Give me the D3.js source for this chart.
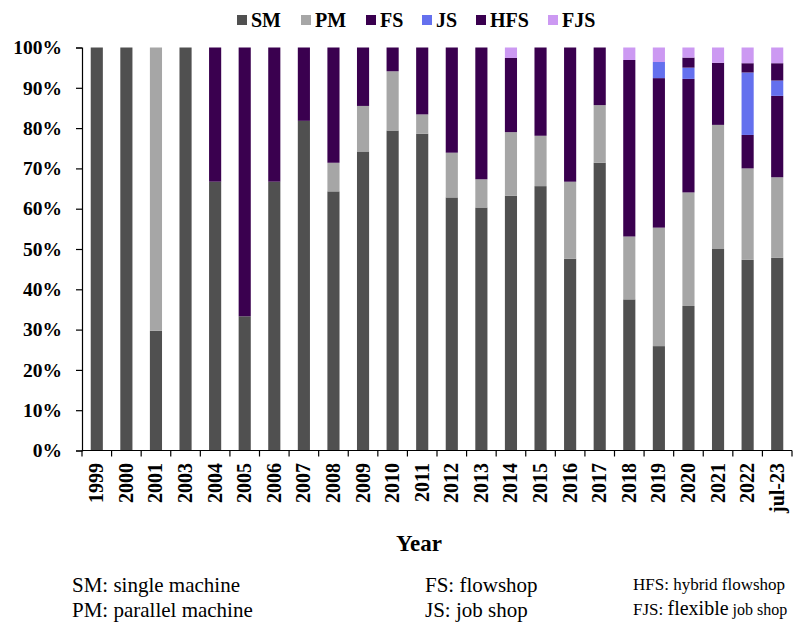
<!DOCTYPE html>
<html>
<head>
<meta charset="utf-8">
<script src="https://cdn.jsdelivr.net/npm/d3@7/dist/d3.min.js"></script>
<style>
  html, body { margin: 0; padding: 0; background: #fff; }
  svg { display: block; font-family: "Liberation Serif", "Times New Roman", serif; }
</style>
</head>
<body>
<svg id="chart" width="798" height="626"></svg>
<script>
const years = ["1999","2000","2001","2003","2004","2005","2006","2007","2008","2009","2010","2011","2012","2013","2014","2015","2016","2017","2018","2019","2020","2021","2022","jul-23"];
const seriesNames = ["SM","PM","FS","JS","HFS","FJS"];
const seriesColors = ["#505050","#a6a6a6","#3a004f","#6470ee","#3a004f","#cc99f2"];
const SM  = [100,100,29.7,100,66.7,33.3,66.7,81.8,64.3,74.2,79.4,78.6,62.8,60.3,63.2,65.6,47.6,71.4,37.5,25.9,35.9,50.0,47.3,47.8];
const PM  = [0,0,70.3,0,0,0,0,0,7.1,11.3,14.7,4.8,11.1,7.0,15.8,12.5,19.1,14.3,15.6,29.4,28.2,30.8,22.7,20.0];
const FS  = [0,0,0,0,33.3,66.7,33.3,18.2,28.6,14.5,5.9,16.6,26.1,32.7,18.4,21.9,33.3,14.3,43.8,37.1,28.2,15.4,8.3,20.2];
const JS  = [0,0,0,0,0,0,0,0,0,0,0,0,0,0,0,0,0,0,0,4.0,2.8,0,15.5,3.8];
const HFS = [0,0,0,0,0,0,0,0,0,0,0,0,0,0,0,0,0,0,0,0,2.5,0,2.3,4.3];
const FJS = [0,0,0,0,0,0,0,0,0,0,0,0,0,0,2.6,0,0,0,3.1,3.6,2.5,3.8,3.9,3.9];
const yTicks = [0,0.1,0.2,0.3,0.4,0.5,0.6,0.7,0.8,0.9,1.0];
const footnotes = [
  ["SM: single machine","PM: parallel machine"],
  ["FS: flowshop","JS: job shop"]
];

const seriesData = [SM, PM, FS, JS, HFS, FJS];
const rows = years.map((y, i) => {
  const r = { year: y };
  seriesNames.forEach((s, k) => r[s] = seriesData[k][i]);
  return r;
});

const svg = d3.select("#chart");
const x0 = 82, x1 = 792, yTop = 47.5, yBot = 450.5;

const x = d3.scaleBand().domain(years).range([x0, x1]).paddingInner(0.59).paddingOuter(0.295);
const y = d3.scaleLinear().domain([0, 1]).range([yBot, yTop]);
const color = d3.scaleOrdinal().domain(seriesNames).range(seriesColors);

const stack = d3.stack().keys(seriesNames).offset(d3.stackOffsetExpand);
const stacked = stack(rows);

svg.append("g").selectAll("g").data(stacked).join("g")
  .attr("fill", d => color(d.key))
  .selectAll("rect").data(d => d).join("rect")
  .attr("x", d => x(d.data.year))
  .attr("width", x.bandwidth())
  .attr("y", d => y(d[1]))
  .attr("height", d => Math.max(0, y(d[0]) - y(d[1])));

// Y axis
const yAxis = d3.axisLeft(y).tickValues(yTicks).tickFormat(d3.format(".0%")).tickSize(6).tickPadding(14);
const gy = svg.append("g").attr("transform", `translate(${x0},0)`).call(yAxis);
gy.select(".domain").attr("stroke", "#000").attr("stroke-width", 1.2);
gy.selectAll(".tick line").attr("stroke", "#000").attr("stroke-width", 1.2);
gy.selectAll(".tick text")
  .attr("fill", "#000")
  .style("font-family", "'Liberation Serif', 'Times New Roman', serif")
  .style("font-weight", "bold")
  .style("font-size", "19.5px");

// X axis (ticks between categories)
const step = x.step();
const gx = svg.append("g");
gx.append("line").attr("x1", x0).attr("x2", x1).attr("y1", yBot).attr("y2", yBot)
  .attr("stroke", "#000").attr("stroke-width", 1.2);
gx.selectAll("line.tk").data(d3.range(years.length + 1)).join("line")
  .attr("class", "tk")
  .attr("x1", i => x0 + i * step).attr("x2", i => x0 + i * step)
  .attr("y1", yBot).attr("y2", yBot + 6)
  .attr("stroke", "#000").attr("stroke-width", 1.2);
gx.selectAll("text").data(years).join("text")
  .attr("transform", d => `translate(${x(d) + x.bandwidth() / 2 + 6.5},463) rotate(-90)`)
  .attr("text-anchor", "end")
  .style("font-weight", "bold")
  .style("font-size", "20px")
  .attr("fill", "#000")
  .text(d => d);

// X title
svg.append("text").attr("x", 419).attr("y", 551).attr("text-anchor", "middle")
  .style("font-weight", "bold").style("font-size", "23px").text("Year");

// Legend
const legX = [237, 301, 366, 422, 476, 548];
const lg = svg.append("g").selectAll("g").data(seriesNames).join("g")
  .attr("transform", (d, i) => `translate(${legX[i]},0)`);
lg.append("rect").attr("x", 0).attr("y", 15).attr("width", 10).attr("height", 10)
  .attr("fill", d => color(d));
lg.append("text").attr("x", 14).attr("y", 26.5)
  .style("font-weight", "bold").style("font-size", "20px").text(d => d);

// Footnotes
const fn = svg.append("g").style("font-size", "21px").attr("fill", "#000");
fn.append("text").attr("x", 72).attr("y", 592).text(footnotes[0][0]);
fn.append("text").attr("x", 72).attr("y", 617).text(footnotes[0][1]);
fn.append("text").attr("x", 425).attr("y", 592).text(footnotes[1][0]);
fn.append("text").attr("x", 425).attr("y", 617).text(footnotes[1][1]);
fn.append("text").attr("x", 633).attr("y", 590).style("font-size", "17px").text("HFS: hybrid flowshop");
const t4 = fn.append("text").attr("x", 633).attr("y", 615).style("font-size", "17px");
t4.append("tspan").text("FJS: ");
t4.append("tspan").style("font-size", "20px").text("flexible");
t4.append("tspan").style("font-size", "16px").text(" job shop");
</script>
</body>
</html>
